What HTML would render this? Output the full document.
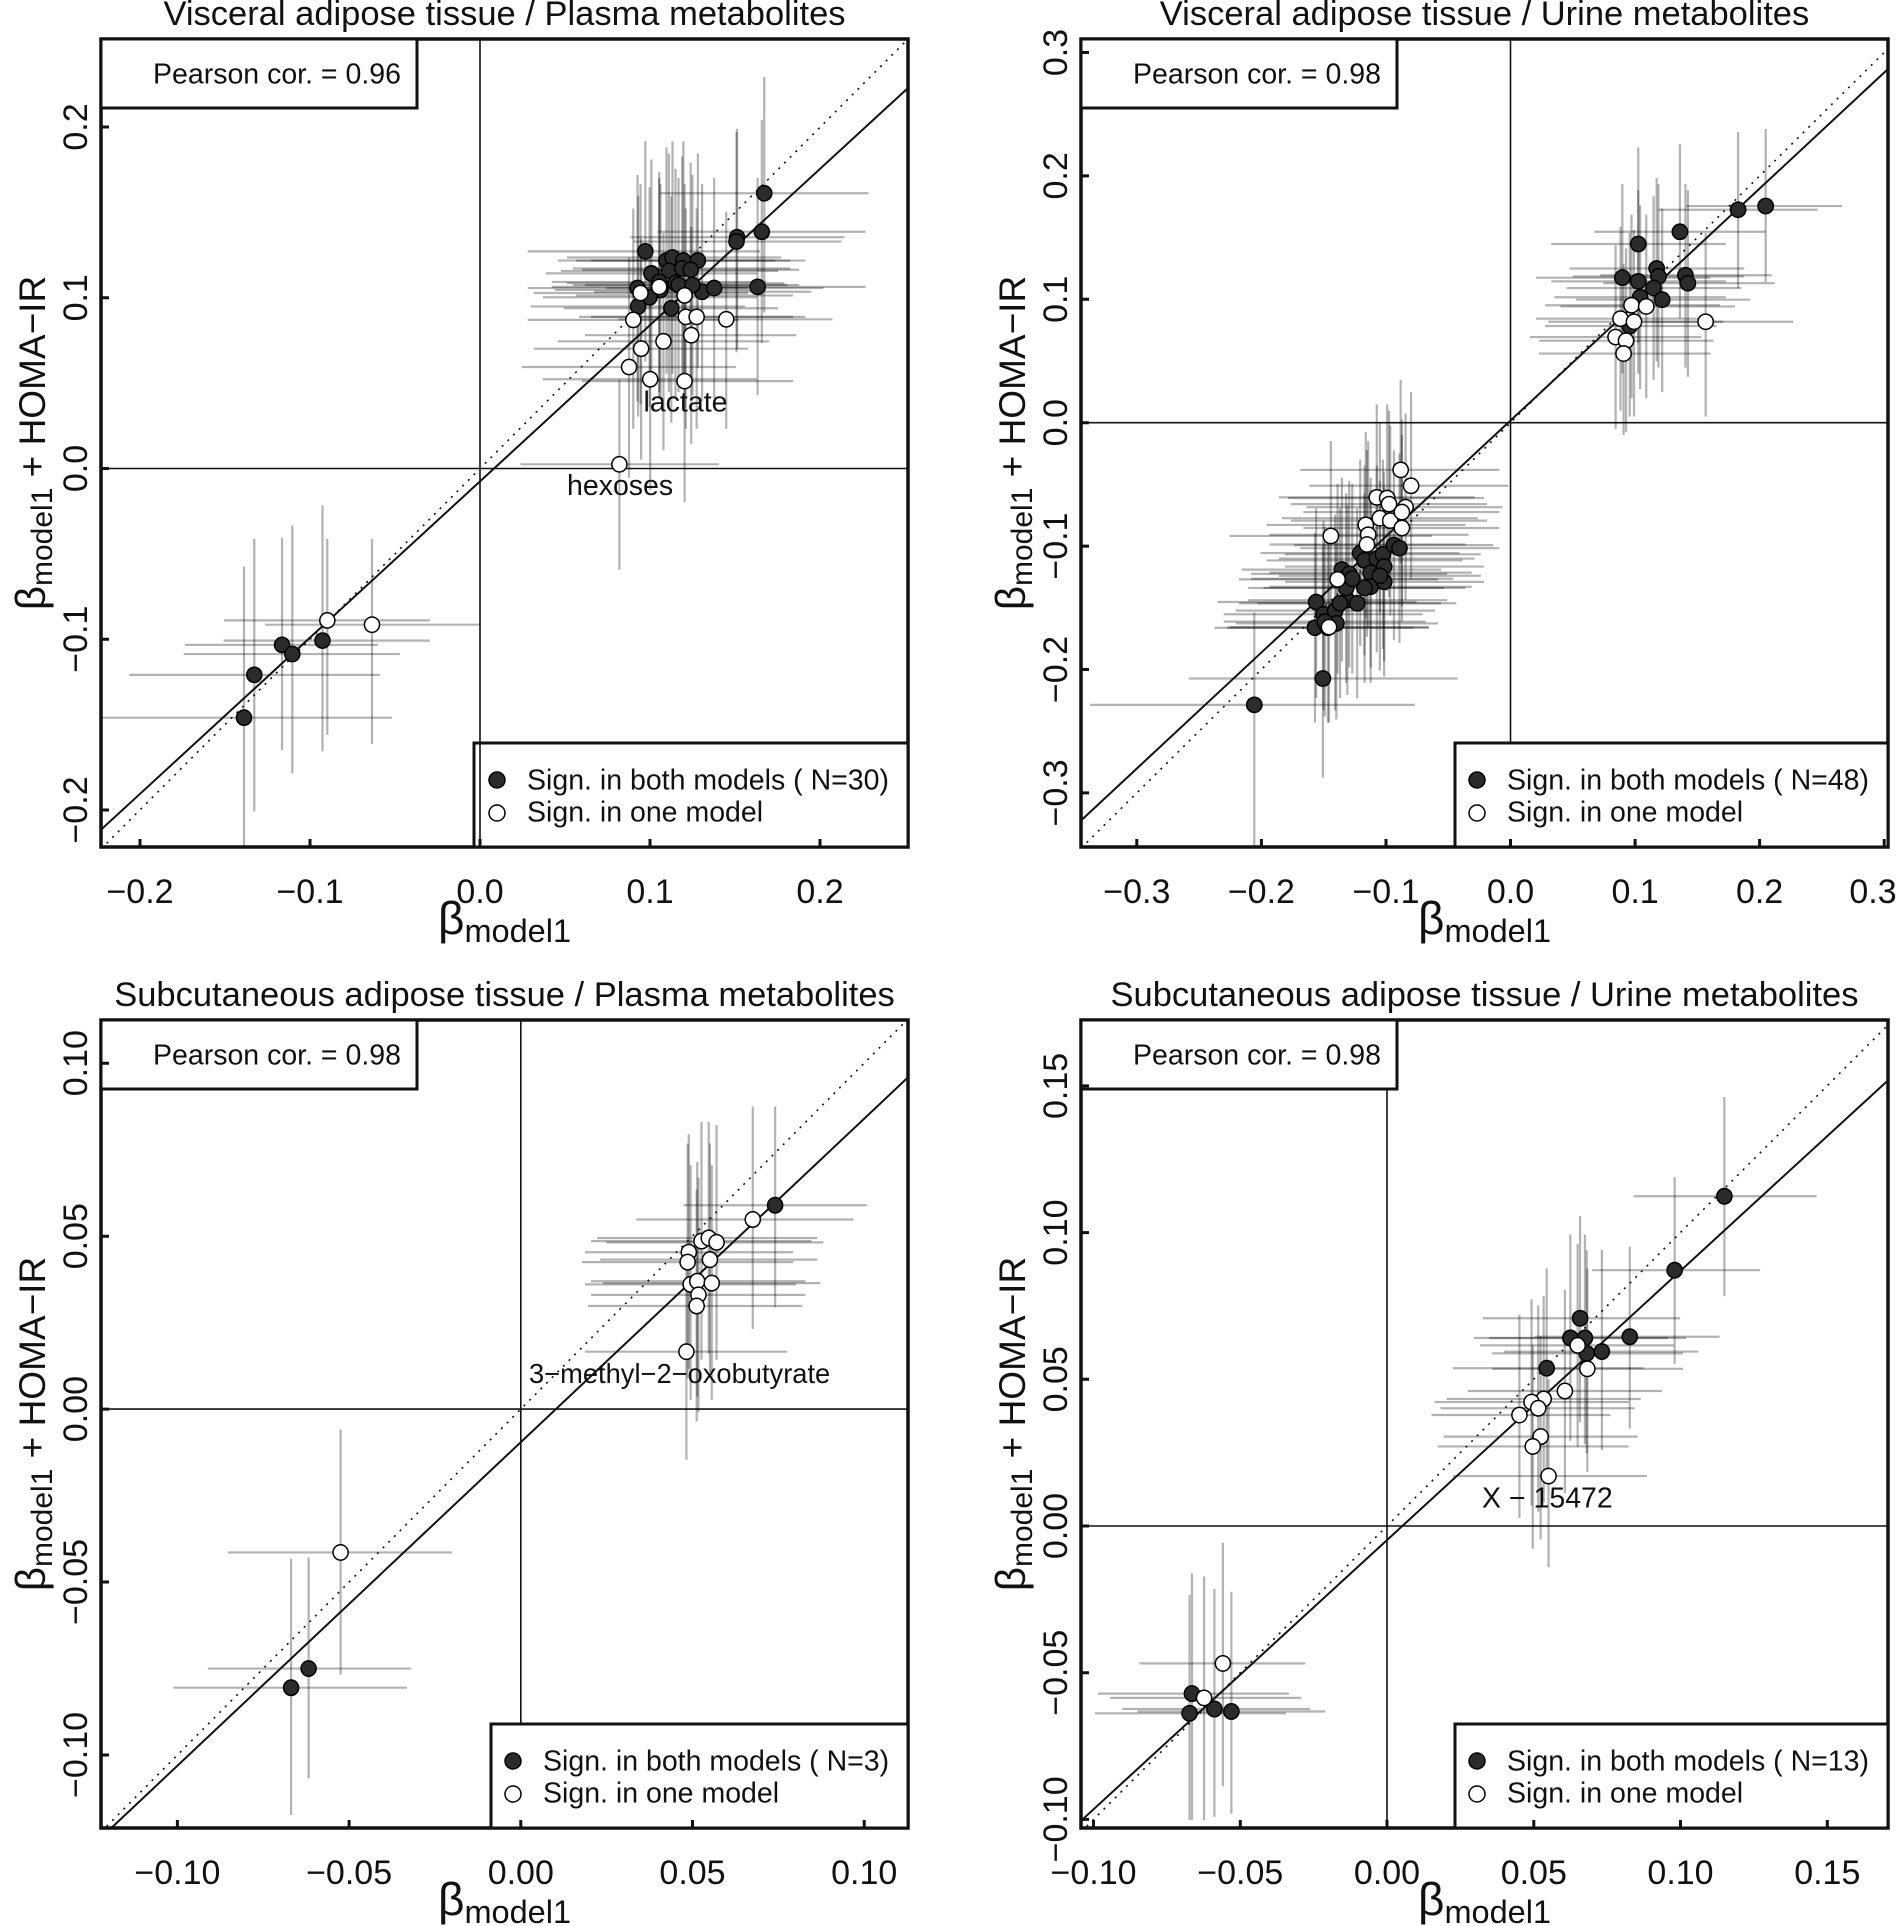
<!DOCTYPE html>
<html><head><meta charset="utf-8"><style>
html,body{margin:0;padding:0;background:#fff}
svg{display:block}
.t{font-family:"Liberation Sans",Arial,sans-serif;fill:#111}
.e{fill:none;stroke:#000;stroke-opacity:.3;stroke-width:2.2;vector-effect:non-scaling-stroke}
.f{fill:#2b2b2b;stroke:#000;stroke-width:1.5;vector-effect:non-scaling-stroke}
.o{fill:#fff;stroke:#000;stroke-width:1.5;vector-effect:non-scaling-stroke}
.bx{fill:none;stroke:#111;stroke-width:3.5}
.lb{fill:#fff;stroke:#111;stroke-width:3}
.z{stroke:#111;stroke-width:1.6}
.rg{stroke:#111;stroke-width:2;fill:none}
.dt{stroke:#111;stroke-width:1.6;stroke-dasharray:2 6;fill:none}
.tk{stroke:#111;stroke-width:3}
circle{r:12.5px}
</style></head><body>
<svg width="1899" height="1926" viewBox="0 0 1899 1926" xmlns="http://www.w3.org/2000/svg">
<defs>
<clipPath id="c1"><rect x="101" y="39" width="807" height="808"/></clipPath>
<clipPath id="c2"><rect x="1081" y="39" width="807" height="808"/></clipPath>
<clipPath id="c3"><rect x="101" y="1020" width="807" height="808"/></clipPath>
<clipPath id="c4"><rect x="1081" y="1020" width="807" height="808"/></clipPath>
</defs>

<!-- ================= PANEL 1 ================= -->
<text class="t" x="504.5" y="25" font-size="34.5" text-anchor="middle">Visceral adipose tissue / Plasma metabolites</text>
<line class="z" x1="480" y1="39" x2="480" y2="847"/>
<line class="z" x1="101" y1="468.5" x2="908" y2="468.5"/>
<g transform="matrix(0.6035 0 0 0.612 2.63 0.44)">
<path class="e" d="M163 1172H645M400 925V1383"/>
<path class="e" d="M210 1102H625M417 880V1325"/>
<path class="e" d="M302 1053H622M463 878V1225"/>
<path class="e" d="M300 1068H658M480 858V1263"/>
<path class="e" d="M366 1046H708M530 825V1227"/>
<path class="e" d="M367 1013H708M538 880V1200"/>
<path class="e" d="M435 1020H790M612 880V1215"/>
<path class="e" d="M1090 315H1435M1262 125V510"/>
<path class="e" d="M1085 378H1430M1258 195V560"/>
<path class="e" d="M1040 387H1395M1217 210V570"/>
<path class="e" d="M1045 394H1390M1216 215V575"/>
<path class="e" d="M870 410H1255M1065 230V590"/>
<path class="e" d="M920 425H1280M1100 240V610"/>
<path class="e" d="M935 420H1290M1110 230V610"/>
<path class="e" d="M950 425H1305M1128 230V620"/>
<path class="e" d="M975 425H1330M1152 250V600"/>
<path class="e" d="M900 446H1250M1075 260V630"/>
<path class="e" d="M925 442H1285M1104 250V640"/>
<path class="e" d="M945 438H1305M1126 255V620"/>
<path class="e" d="M960 440H1320M1140 265V615"/>
<path class="e" d="M870 470H1235M1052 285V655"/>
<path class="e" d="M935 462H1295M1115 275V650"/>
<path class="e" d="M945 465H1300M1120 290V640"/>
<path class="e" d="M915 473H1265M1090 300V650"/>
<path class="e" d="M895 485H1250M1072 305V665"/>
<path class="e" d="M980 476H1340M1159 300V655"/>
<path class="e" d="M1000 470H1360M1179 290V650"/>
<path class="e" d="M1075 468H1430M1251 290V645"/>
<path class="e" d="M875 500H1230M1053 320V680"/>
<path class="e" d="M930 503H1285M1108 320V690"/>
<path class="e" d="M965 465H1320M1143 285V645"/>
<path class="e" d="M910 460H1265M1088 280V640"/>
<path class="e" d="M880 478H1235M1057 300V660"/>
<path class="e" d="M910 468H1265M1088 290V650"/>
<path class="e" d="M950 482H1310M1130 300V665"/>
<path class="e" d="M870 522H1220M1045 340V700"/>
<path class="e" d="M955 517H1310M1132 340V700"/>
<path class="e" d="M975 517H1330M1150 340V700"/>
<path class="e" d="M1020 521H1375M1199 345V700"/>
<path class="e" d="M965 547H1315M1141 370V725"/>
<path class="e" d="M920 557H1270M1095 380V735"/>
<path class="e" d="M880 569H1235M1058 390V750"/>
<path class="e" d="M860 599H1215M1038 420V780"/>
<path class="e" d="M895 619H1250M1073 445V800"/>
<path class="e" d="M960 622H1310M1130 450V820"/>
<path class="e" d="M858 758H1187M1022 620V930"/>
</g>
<g clip-path="url(#c1)">
<line class="dt" x1="101" y1="849" x2="908" y2="39"/>
<line class="rg" x1="101" y1="829.7" x2="908" y2="88"/>
</g>
<g transform="matrix(0.6035 0 0 0.612 2.63 0.44)">
<circle class="f" cx="400" cy="1172" r="12.5"/><circle class="f" cx="417" cy="1102" r="12.5"/>
<circle class="f" cx="463" cy="1053" r="12.5"/><circle class="f" cx="480" cy="1068" r="12.5"/>
<circle class="f" cx="530" cy="1046" r="12.5"/>
<circle class="f" cx="1262" cy="315" r="12.5"/><circle class="f" cx="1258" cy="378" r="12.5"/>
<circle class="f" cx="1217" cy="387" r="12.5"/><circle class="f" cx="1216" cy="394" r="12.5"/>
<circle class="f" cx="1065" cy="410" r="12.5"/><circle class="f" cx="1100" cy="425" r="12.5"/>
<circle class="f" cx="1110" cy="420" r="12.5"/><circle class="f" cx="1128" cy="425" r="12.5"/>
<circle class="f" cx="1152" cy="425" r="12.5"/><circle class="f" cx="1075" cy="446" r="12.5"/>
<circle class="f" cx="1104" cy="442" r="12.5"/><circle class="f" cx="1126" cy="438" r="12.5"/>
<circle class="f" cx="1140" cy="440" r="12.5"/><circle class="f" cx="1052" cy="470" r="12.5"/>
<circle class="f" cx="1115" cy="462" r="12.5"/><circle class="f" cx="1120" cy="465" r="12.5"/>
<circle class="f" cx="1090" cy="473" r="12.5"/><circle class="f" cx="1072" cy="485" r="12.5"/>
<circle class="f" cx="1159" cy="476" r="12.5"/><circle class="f" cx="1179" cy="470" r="12.5"/>
<circle class="f" cx="1251" cy="468" r="12.5"/><circle class="f" cx="1053" cy="500" r="12.5"/>
<circle class="f" cx="1108" cy="503" r="12.5"/><circle class="f" cx="1143" cy="465" r="12.5"/>
<circle class="f" cx="1088" cy="460" r="12.5"/>
<circle class="o" cx="538" cy="1013" r="12.5"/><circle class="o" cx="612" cy="1020" r="12.5"/>
<circle class="o" cx="1057" cy="478" r="12.5"/><circle class="o" cx="1088" cy="468" r="12.5"/>
<circle class="o" cx="1130" cy="482" r="12.5"/><circle class="o" cx="1045" cy="522" r="12.5"/>
<circle class="o" cx="1132" cy="517" r="12.5"/><circle class="o" cx="1150" cy="517" r="12.5"/>
<circle class="o" cx="1199" cy="521" r="12.5"/><circle class="o" cx="1141" cy="547" r="12.5"/>
<circle class="o" cx="1095" cy="557" r="12.5"/><circle class="o" cx="1058" cy="569" r="12.5"/>
<circle class="o" cx="1038" cy="599" r="12.5"/><circle class="o" cx="1073" cy="619" r="12.5"/>
<circle class="o" cx="1130" cy="622" r="12.5"/><circle class="o" cx="1022" cy="758" r="12.5"/>
</g>
<text class="t" x="643.5" y="411.7" font-size="28.5">lactate</text>
<text class="t" x="567" y="495" font-size="28.5">hexoses</text>
<rect class="bx" x="101" y="39" width="807" height="808"/>
<rect class="lb" x="101" y="39" width="316" height="69"/>
<text class="t" x="153" y="83.3" font-size="28.5">Pearson cor. = 0.96</text>
<rect class="lb" x="474" y="743" width="434" height="104"/>
<line class="z" x1="480" y1="743" x2="480" y2="847"/>
<circle cx="497" cy="780" r="8" style="r:8px" fill="#2b2b2b" stroke="#000" stroke-width="1.5"/>
<circle cx="497" cy="813" r="8" style="r:8px" fill="#fff" stroke="#000" stroke-width="1.5"/>
<text class="t" x="527" y="789.3" font-size="28.5">Sign. in both models ( N=30)</text>
<text class="t" x="527" y="821.7" font-size="28.5">Sign. in one model</text>
<path class="tk" d="M140 847V839M310 847V839M480 847V839M650 847V839M820 847V839M101 127H109M101 297.8H109M101 468.5H109M101 639.2H109M101 810H109"/>
<g class="t" font-size="34" text-anchor="middle">
<text x="140" y="903">−0.2</text><text x="310" y="903">−0.1</text><text x="480" y="903">0.0</text><text x="650" y="903">0.1</text><text x="820" y="903">0.2</text>
<text transform="translate(87,127) rotate(-90)">0.2</text>
<text transform="translate(87,297.8) rotate(-90)">0.1</text>
<text transform="translate(87,468.5) rotate(-90)">0.0</text>
<text transform="translate(87,639.2) rotate(-90)">−0.1</text>
<text transform="translate(87,810) rotate(-90)">−0.2</text>
</g>
<text class="t" x="504.5" y="934" text-anchor="middle"><tspan font-size="46">β</tspan><tspan font-size="32.5" dy="8">model1</tspan></text>
<text class="t" transform="translate(45,443) rotate(-90)" text-anchor="middle"><tspan font-size="42">β</tspan><tspan font-size="30" dy="7">model1</tspan><tspan font-size="37" dy="-7">&#160;+ HOMA−IR</tspan></text>

<!-- ================= PANEL 2 ================= -->
<text class="t" x="1484.5" y="25" font-size="34.5" text-anchor="middle">Visceral adipose tissue / Urine metabolites</text>
<line class="z" x1="1510.5" y1="39" x2="1510.5" y2="847"/>
<line class="z" x1="1081" y1="422.7" x2="1888" y2="422.7"/>
<g transform="matrix(0.6124 0 0 0.612 948.1 0.44)">
<path class="e" d="M1160 342H1420M1290 215V470"/>
<path class="e" d="M1205 336H1460M1335 210V460"/>
<path class="e" d="M1055 378H1335M1195 235V520"/>
<path class="e" d="M985 398H1270M1127 240V560"/>
<path class="e" d="M960 453H1245M1101 300V610"/>
<path class="e" d="M985 459H1270M1127 310V610"/>
<path class="e" d="M1015 438H1300M1157 290V590"/>
<path class="e" d="M1020 451H1300M1160 300V600"/>
<path class="e" d="M1010 470H1295M1152 320V620"/>
<path class="e" d="M1065 449H1345M1204 300V600"/>
<path class="e" d="M1070 462H1350M1208 310V615"/>
<path class="e" d="M1025 489H1310M1166 340V640"/>
<path class="e" d="M975 532H1255M1113 380V680"/>
<path class="e" d="M990 485H1270M1130 335V635"/>
<path class="e" d="M975 498H1260M1116 350V650"/>
<path class="e" d="M1000 500H1285M1140 350V650"/>
<path class="e" d="M960 520H1240M1098 370V670"/>
<path class="e" d="M980 525H1265M1120 375V680"/>
<path class="e" d="M950 550H1230M1090 400V700"/>
<path class="e" d="M965 556H1250M1107 405V705"/>
<path class="e" d="M965 577H1245M1103 430V710"/>
<path class="e" d="M1095 525H1380M1237 380V680"/>
<path class="e" d="M232 1151H762M500 1000V1383"/>
<path class="e" d="M393 1108H832M612 890V1270"/>
<path class="e" d="M440 983H765M601 830V1140"/>
<path class="e" d="M435 1025H760M599 870V1180"/>
<path class="e" d="M450 1003H775M613 850V1160"/>
<path class="e" d="M470 997H795M632 840V1160"/>
<path class="e" d="M480 930H805M643 780V1080"/>
<path class="e" d="M495 937H815M655 785V1090"/>
<path class="e" d="M490 980H815M652 825V1135"/>
<path class="e" d="M490 960H810M650 805V1115"/>
<path class="e" d="M510 903H835M673 750V1055"/>
<path class="e" d="M520 915H840M680 760V1070"/>
<path class="e" d="M525 935H855M690 780V1090"/>
<path class="e" d="M540 912H860M700 760V1065"/>
<path class="e" d="M550 905H870M710 750V1060"/>
<path class="e" d="M550 925H875M712 770V1080"/>
<path class="e" d="M565 890H890M728 735V1045"/>
<path class="e" d="M575 895H900M737 740V1050"/>
<path class="e" d="M525 958H855M690 800V1115"/>
<path class="e" d="M550 950H875M712 795V1105"/>
<path class="e" d="M515 960H845M680 805V1115"/>
<path class="e" d="M455 1025H785M620 870V1180"/>
<path class="e" d="M470 1018H800M634 865V1175"/>
<path class="e" d="M495 945H825M660 790V1100"/>
<path class="e" d="M540 940H870M705 785V1095"/>
<path class="e" d="M475 985H805M640 830V1140"/>
<path class="e" d="M505 985H830M668 830V1140"/>
<path class="e" d="M450 1015H780M615 860V1170"/>
<path class="e" d="M575 767H900M739 620V920"/>
<path class="e" d="M590 793H915M756 640V945"/>
<path class="e" d="M540 812H860M700 660V965"/>
<path class="e" d="M555 813H875M717 660V965"/>
<path class="e" d="M585 828H905M747 675V980"/>
<path class="e" d="M560 823H880M720 670V975"/>
<path class="e" d="M545 846H865M705 690V1000"/>
<path class="e" d="M560 850H880M722 695V1005"/>
<path class="e" d="M580 836H900M741 685V990"/>
<path class="e" d="M580 862H900M741 710V1015"/>
<path class="e" d="M520 857H845M682 705V1010"/>
<path class="e" d="M525 873H850M686 720V1025"/>
<path class="e" d="M525 889H845M684 735V1040"/>
<path class="e" d="M460 875H790M625 720V1030"/>
<path class="e" d="M475 946H800M636 790V1100"/>
<path class="e" d="M460 1024H785M622 870V1180"/>
</g>
<g clip-path="url(#c2)">
<line class="dt" x1="1081" y1="848.2" x2="1888" y2="48.7"/>
<line class="rg" x1="1081" y1="820.5" x2="1888" y2="69"/>
</g>
<g transform="matrix(0.6124 0 0 0.612 948.1 0.44)">
<circle class="f" cx="1290" cy="342" r="12.5"/><circle class="f" cx="1335" cy="336" r="12.5"/>
<circle class="f" cx="1195" cy="378" r="12.5"/><circle class="f" cx="1127" cy="398" r="12.5"/>
<circle class="f" cx="1101" cy="453" r="12.5"/><circle class="f" cx="1127" cy="459" r="12.5"/>
<circle class="f" cx="1157" cy="438" r="12.5"/><circle class="f" cx="1160" cy="451" r="12.5"/>
<circle class="f" cx="1152" cy="470" r="12.5"/><circle class="f" cx="1204" cy="449" r="12.5"/>
<circle class="f" cx="1208" cy="462" r="12.5"/><circle class="f" cx="1166" cy="489" r="12.5"/>
<circle class="f" cx="1113" cy="532" r="12.5"/><circle class="f" cx="1130" cy="485" r="12.5"/>
<circle class="f" cx="500" cy="1151" r="12.5"/><circle class="f" cx="612" cy="1108" r="12.5"/>
<circle class="f" cx="601" cy="983" r="12.5"/><circle class="f" cx="599" cy="1025" r="12.5"/>
<circle class="f" cx="613" cy="1003" r="12.5"/><circle class="f" cx="632" cy="997" r="12.5"/>
<circle class="f" cx="643" cy="930" r="12.5"/><circle class="f" cx="655" cy="937" r="12.5"/>
<circle class="f" cx="652" cy="980" r="12.5"/><circle class="f" cx="650" cy="960" r="12.5"/>
<circle class="f" cx="673" cy="903" r="12.5"/><circle class="f" cx="680" cy="915" r="12.5"/>
<circle class="f" cx="690" cy="935" r="12.5"/><circle class="f" cx="700" cy="912" r="12.5"/>
<circle class="f" cx="710" cy="905" r="12.5"/><circle class="f" cx="712" cy="925" r="12.5"/>
<circle class="f" cx="728" cy="890" r="12.5"/><circle class="f" cx="737" cy="895" r="12.5"/>
<circle class="f" cx="690" cy="958" r="12.5"/><circle class="f" cx="712" cy="950" r="12.5"/>
<circle class="f" cx="680" cy="960" r="12.5"/><circle class="f" cx="620" cy="1025" r="12.5"/>
<circle class="f" cx="634" cy="1018" r="12.5"/><circle class="f" cx="660" cy="945" r="12.5"/>
<circle class="f" cx="705" cy="940" r="12.5"/><circle class="f" cx="640" cy="985" r="12.5"/>
<circle class="f" cx="668" cy="985" r="12.5"/><circle class="f" cx="615" cy="1015" r="12.5"/>
<circle class="o" cx="1116" cy="498" r="12.5"/><circle class="o" cx="1140" cy="500" r="12.5"/>
<circle class="o" cx="1098" cy="520" r="12.5"/><circle class="o" cx="1120" cy="525" r="12.5"/>
<circle class="o" cx="1090" cy="550" r="12.5"/><circle class="o" cx="1107" cy="556" r="12.5"/>
<circle class="o" cx="1103" cy="577" r="12.5"/><circle class="o" cx="1237" cy="525" r="12.5"/>
<circle class="o" cx="739" cy="767" r="12.5"/><circle class="o" cx="756" cy="793" r="12.5"/>
<circle class="o" cx="700" cy="812" r="12.5"/><circle class="o" cx="717" cy="813" r="12.5"/>
<circle class="o" cx="747" cy="828" r="12.5"/><circle class="o" cx="720" cy="823" r="12.5"/>
<circle class="o" cx="705" cy="846" r="12.5"/><circle class="o" cx="722" cy="850" r="12.5"/>
<circle class="o" cx="741" cy="836" r="12.5"/><circle class="o" cx="741" cy="862" r="12.5"/>
<circle class="o" cx="682" cy="857" r="12.5"/><circle class="o" cx="686" cy="873" r="12.5"/>
<circle class="o" cx="684" cy="889" r="12.5"/><circle class="o" cx="625" cy="875" r="12.5"/>
<circle class="o" cx="636" cy="946" r="12.5"/><circle class="o" cx="622" cy="1024" r="12.5"/>
</g>
<rect class="bx" x="1081" y="39" width="807" height="808"/>
<rect class="lb" x="1081" y="39" width="316" height="69"/>
<text class="t" x="1133" y="83.3" font-size="28.5">Pearson cor. = 0.98</text>
<rect class="lb" x="1455" y="743" width="433" height="104"/>
<circle cx="1477" cy="780" r="8" style="r:8px" fill="#2b2b2b" stroke="#000" stroke-width="1.5"/>
<circle cx="1477" cy="813" r="8" style="r:8px" fill="#fff" stroke="#000" stroke-width="1.5"/>
<text class="t" x="1507" y="789.3" font-size="28.5">Sign. in both models ( N=48)</text>
<text class="t" x="1507" y="821.7" font-size="28.5">Sign. in one model</text>
<path class="tk" d="M1136.8 847V839M1261.4 847V839M1386 847V839M1510.5 847V839M1635.1 847V839M1759.6 847V839M1884.2 847V839M1081 52.5H1089M1081 175.9H1089M1081 299.3H1089M1081 422.7H1089M1081 546.1H1089M1081 669.5H1089M1081 792.9H1089"/>
<g class="t" font-size="34" text-anchor="middle">
<text x="1136.8" y="903">−0.3</text><text x="1261.4" y="903">−0.2</text><text x="1386" y="903">−0.1</text><text x="1510.5" y="903">0.0</text><text x="1635.1" y="903">0.1</text><text x="1759.6" y="903">0.2</text><text x="1873" y="903">0.3</text>
<text transform="translate(1067,52.5) rotate(-90)">0.3</text>
<text transform="translate(1067,175.9) rotate(-90)">0.2</text>
<text transform="translate(1067,299.3) rotate(-90)">0.1</text>
<text transform="translate(1067,422.7) rotate(-90)">0.0</text>
<text transform="translate(1067,546.1) rotate(-90)">−0.1</text>
<text transform="translate(1067,669.5) rotate(-90)">−0.2</text>
<text transform="translate(1067,792.9) rotate(-90)">−0.3</text>
</g>
<text class="t" x="1484.5" y="934" text-anchor="middle"><tspan font-size="46">β</tspan><tspan font-size="32.5" dy="8">model1</tspan></text>
<text class="t" transform="translate(1025,443) rotate(-90)" text-anchor="middle"><tspan font-size="42">β</tspan><tspan font-size="30" dy="7">model1</tspan><tspan font-size="37" dy="-7">&#160;+ HOMA−IR</tspan></text>

<!-- ================= PANEL 3 ================= -->
<text class="t" x="504.5" y="1006" font-size="34.5" text-anchor="middle">Subcutaneous adipose tissue / Plasma metabolites</text>
<line class="z" x1="520.8" y1="1020" x2="520.8" y2="1828"/>
<line class="z" x1="101" y1="1409.1" x2="908" y2="1409.1"/>
<g transform="matrix(0.6035 0 0 0.6177 2.63 958.2)">
<path class="e" d="M1128 400H1432M1280 240V565"/>
<path class="e" d="M283 1181H670M478 972V1387"/>
<path class="e" d="M340 1150H677M507 970V1328"/>
<path class="e" d="M1050 423H1410M1243 240V600"/>
<path class="e" d="M975 458H1340M1158 265V650"/>
<path class="e" d="M985 453H1350M1170 265V640"/>
<path class="e" d="M1000 460H1360M1183 270V650"/>
<path class="e" d="M965 476H1310M1137 285V665"/>
<path class="e" d="M960 492H1310M1135 300V680"/>
<path class="e" d="M990 488H1350M1172 300V680"/>
<path class="e" d="M965 528H1315M1140 335V715"/>
<path class="e" d="M975 523H1330M1151 330V710"/>
<path class="e" d="M995 526H1355M1175 335V715"/>
<path class="e" d="M975 545H1330M1153 355V735"/>
<path class="e" d="M970 563H1325M1150 375V750"/>
<path class="e" d="M965 637H1300M1133 468V812"/>
<path class="e" d="M373 962H745M560 763V1160"/>
</g>
<g clip-path="url(#c3)">
<line class="dt" x1="101" y1="1832" x2="908" y2="1019"/>
<line class="rg" x1="101" y1="1837.7" x2="908" y2="1077.4"/>
</g>
<g transform="matrix(0.6035 0 0 0.6177 2.63 958.2)">
<circle class="f" cx="1280" cy="400" r="12.5"/><circle class="f" cx="478" cy="1181" r="12.5"/>
<circle class="f" cx="507" cy="1150" r="12.5"/>
<circle class="o" cx="1243" cy="423" r="12.5"/><circle class="o" cx="1158" cy="458" r="12.5"/>
<circle class="o" cx="1170" cy="453" r="12.5"/><circle class="o" cx="1183" cy="460" r="12.5"/>
<circle class="o" cx="1137" cy="476" r="12.5"/><circle class="o" cx="1135" cy="492" r="12.5"/>
<circle class="o" cx="1172" cy="488" r="12.5"/><circle class="o" cx="1140" cy="528" r="12.5"/>
<circle class="o" cx="1151" cy="523" r="12.5"/><circle class="o" cx="1175" cy="526" r="12.5"/>
<circle class="o" cx="1153" cy="545" r="12.5"/><circle class="o" cx="1150" cy="563" r="12.5"/>
<circle class="o" cx="1133" cy="637" r="12.5"/><circle class="o" cx="560" cy="962" r="12.5"/>
</g>
<text class="t" x="529" y="1383.2" font-size="27.3">3−methyl−2−oxobutyrate</text>
<rect class="bx" x="101" y="1020" width="807" height="808"/>
<rect class="lb" x="101" y="1020" width="316" height="69"/>
<text class="t" x="153" y="1064.3" font-size="28.5">Pearson cor. = 0.98</text>
<rect class="lb" x="491" y="1724" width="417" height="104"/>
<circle cx="513" cy="1761" r="8" style="r:8px" fill="#2b2b2b" stroke="#000" stroke-width="1.5"/>
<circle cx="513" cy="1794" r="8" style="r:8px" fill="#fff" stroke="#000" stroke-width="1.5"/>
<text class="t" x="543" y="1770.3" font-size="28.5">Sign. in both models ( N=3)</text>
<text class="t" x="543" y="1802.7" font-size="28.5">Sign. in one model</text>
<path class="tk" d="M177.4 1828V1820M349.1 1828V1820M520.8 1828V1820M692.5 1828V1820M864.2 1828V1820M101 1063.2H109M101 1236.2H109M101 1409.1H109M101 1582H109M101 1755H109"/>
<g class="t" font-size="34" text-anchor="middle">
<text x="177.4" y="1884">−0.10</text><text x="349.1" y="1884">−0.05</text><text x="520.8" y="1884">0.00</text><text x="692.5" y="1884">0.05</text><text x="864.2" y="1884">0.10</text>
<text transform="translate(87,1063.2) rotate(-90)">0.10</text>
<text transform="translate(87,1236.2) rotate(-90)">0.05</text>
<text transform="translate(87,1409.1) rotate(-90)">0.00</text>
<text transform="translate(87,1582) rotate(-90)">−0.05</text>
<text transform="translate(87,1755) rotate(-90)">−0.10</text>
</g>
<text class="t" x="504.5" y="1915" text-anchor="middle"><tspan font-size="46">β</tspan><tspan font-size="32.5" dy="8">model1</tspan></text>
<text class="t" transform="translate(45,1424) rotate(-90)" text-anchor="middle"><tspan font-size="42">β</tspan><tspan font-size="30" dy="7">model1</tspan><tspan font-size="37" dy="-7">&#160;+ HOMA−IR</tspan></text>

<!-- ================= PANEL 4 ================= -->
<text class="t" x="1484.5" y="1006" font-size="34.5" text-anchor="middle">Subcutaneous adipose tissue / Urine metabolites</text>
<line class="z" x1="1387" y1="1020" x2="1387" y2="1828"/>
<line class="z" x1="1081" y1="1526" x2="1888" y2="1526"/>
<g transform="matrix(0.6064 0 0 0.6163 949.4 960.2)">
<path class="e" d="M1128 383H1430M1278 222V545"/>
<path class="e" d="M1060 503H1337M1196 352V655"/>
<path class="e" d="M880 581H1205M1040 415V750"/>
<path class="e" d="M865 613H1185M1024 445V780"/>
<path class="e" d="M890 613H1215M1048 445V785"/>
<path class="e" d="M965 611H1270M1122 465V760"/>
<path class="e" d="M895 638H1210M1051 470V800"/>
<path class="e" d="M915 635H1235M1076 470V795"/>
<path class="e" d="M830 662H1145M985 500V825"/>
<path class="e" d="M245 1190H560M400 995V1395"/>
<path class="e" d="M240 1222H555M396 1030V1395"/>
<path class="e" d="M285 1215H595M437 1020V1390"/>
<path class="e" d="M310 1219H620M465 1025V1385"/>
<path class="e" d="M875 625H1195M1036 460V790"/>
<path class="e" d="M895 663H1210M1052 500V830"/>
<path class="e" d="M855 699H1175M1015 535V865"/>
<path class="e" d="M820 712H1140M980 545V880"/>
<path class="e" d="M800 717H1120M960 550V885"/>
<path class="e" d="M810 727H1130M971 560V895"/>
<path class="e" d="M795 738H1090M940 575V905"/>
<path class="e" d="M815 773H1135M975 610V940"/>
<path class="e" d="M805 789H1120M962 625V955"/>
<path class="e" d="M830 837H1150M988 680V985"/>
<path class="e" d="M313 1141H587M451 945V1340"/>
<path class="e" d="M265 1197H580M420 1000V1395"/>
</g>
<g clip-path="url(#c4)">
<line class="dt" x1="1081" y1="1832" x2="1888" y2="1025"/>
<line class="rg" x1="1081" y1="1820.8" x2="1888" y2="1080.4"/>
</g>
<g transform="matrix(0.6064 0 0 0.6163 949.4 960.2)">
<circle class="f" cx="1278" cy="383" r="12.5"/><circle class="f" cx="1196" cy="503" r="12.5"/>
<circle class="f" cx="1040" cy="581" r="12.5"/><circle class="f" cx="1024" cy="613" r="12.5"/>
<circle class="f" cx="1048" cy="613" r="12.5"/><circle class="f" cx="1122" cy="611" r="12.5"/>
<circle class="f" cx="1051" cy="638" r="12.5"/><circle class="f" cx="1076" cy="635" r="12.5"/>
<circle class="f" cx="985" cy="662" r="12.5"/><circle class="f" cx="400" cy="1190" r="12.5"/>
<circle class="f" cx="396" cy="1222" r="12.5"/><circle class="f" cx="437" cy="1215" r="12.5"/>
<circle class="f" cx="465" cy="1219" r="12.5"/>
<circle class="o" cx="1036" cy="625" r="12.5"/><circle class="o" cx="1052" cy="663" r="12.5"/>
<circle class="o" cx="1015" cy="699" r="12.5"/><circle class="o" cx="980" cy="712" r="12.5"/>
<circle class="o" cx="960" cy="717" r="12.5"/><circle class="o" cx="971" cy="727" r="12.5"/>
<circle class="o" cx="940" cy="738" r="12.5"/><circle class="o" cx="975" cy="773" r="12.5"/>
<circle class="o" cx="962" cy="789" r="12.5"/><circle class="o" cx="988" cy="837" r="12.5"/>
<circle class="o" cx="451" cy="1141" r="12.5"/><circle class="o" cx="420" cy="1197" r="12.5"/>
</g>
<text class="t" x="1482" y="1507.5" font-size="28.5">X − 15472</text>
<rect class="bx" x="1081" y="1020" width="807" height="808"/>
<rect class="lb" x="1081" y="1020" width="316" height="69"/>
<text class="t" x="1133" y="1064.3" font-size="28.5">Pearson cor. = 0.98</text>
<rect class="lb" x="1455" y="1724" width="433" height="104"/>
<circle cx="1477" cy="1761" r="8" style="r:8px" fill="#2b2b2b" stroke="#000" stroke-width="1.5"/>
<circle cx="1477" cy="1794" r="8" style="r:8px" fill="#fff" stroke="#000" stroke-width="1.5"/>
<text class="t" x="1507" y="1770.3" font-size="28.5">Sign. in both models ( N=13)</text>
<text class="t" x="1507" y="1802.7" font-size="28.5">Sign. in one model</text>
<path class="tk" d="M1093.5 1828V1820M1240.3 1828V1820M1387 1828V1820M1533.8 1828V1820M1680.5 1828V1820M1827.3 1828V1820M1081 1085.9H1089M1081 1232.6H1089M1081 1379.3H1089M1081 1526H1089M1081 1672.7H1089M1081 1819.4H1089"/>
<g class="t" font-size="34" text-anchor="middle">
<text x="1093.5" y="1884">−0.10</text><text x="1240.3" y="1884">−0.05</text><text x="1387" y="1884">0.00</text><text x="1533.8" y="1884">0.05</text><text x="1680.5" y="1884">0.10</text><text x="1827.3" y="1884">0.15</text>
<text transform="translate(1067,1085.9) rotate(-90)">0.15</text>
<text transform="translate(1067,1232.6) rotate(-90)">0.10</text>
<text transform="translate(1067,1379.3) rotate(-90)">0.05</text>
<text transform="translate(1067,1526) rotate(-90)">0.00</text>
<text transform="translate(1067,1672.7) rotate(-90)">−0.05</text>
<text transform="translate(1067,1819.4) rotate(-90)">−0.10</text>
</g>
<text class="t" x="1484.5" y="1915" text-anchor="middle"><tspan font-size="46">β</tspan><tspan font-size="32.5" dy="8">model1</tspan></text>
<text class="t" transform="translate(1025,1424) rotate(-90)" text-anchor="middle"><tspan font-size="42">β</tspan><tspan font-size="30" dy="7">model1</tspan><tspan font-size="37" dy="-7">&#160;+ HOMA−IR</tspan></text>
</svg>
</body></html>
